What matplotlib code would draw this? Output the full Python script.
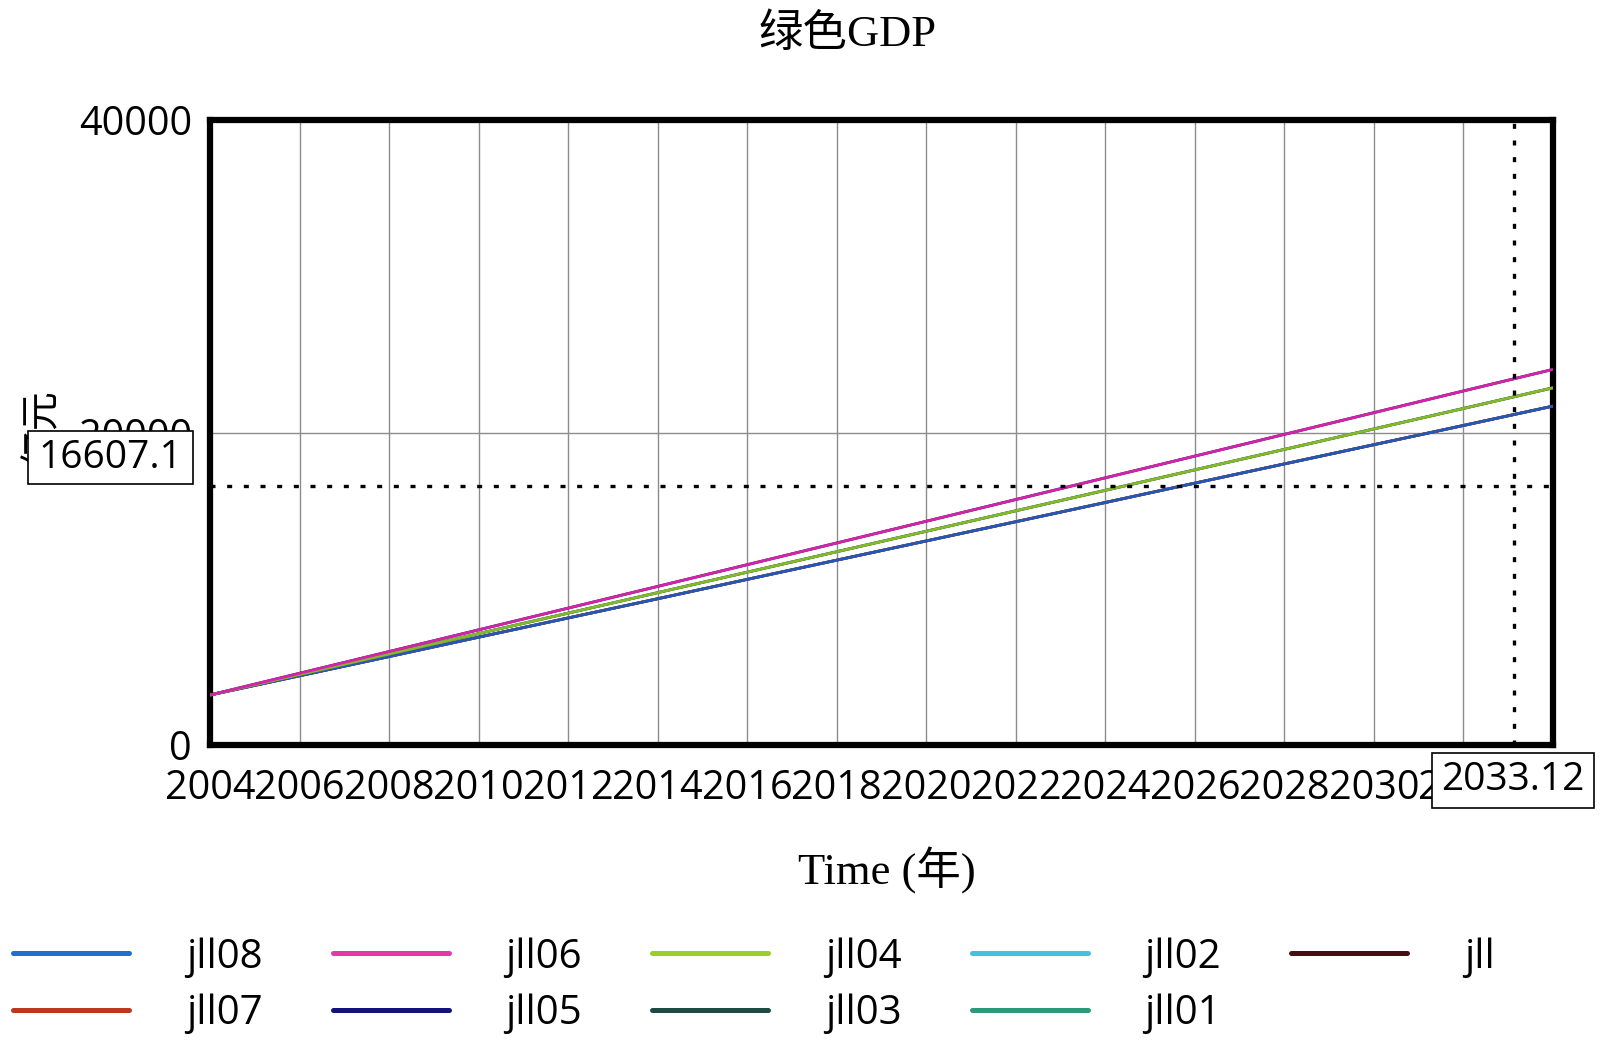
import matplotlib
matplotlib.use("Agg")
import matplotlib.pyplot as plt
from matplotlib.patches import Rectangle
from matplotlib.lines import Line2D

# ---------------- data ----------------
years = [2004, 2006, 2008, 2010, 2012, 2014, 2016, 2018,
         2020, 2022, 2024, 2026, 2028, 2030, 2032, 2034]
tick_years = [2004, 2006, 2008, 2010, 2012, 2014, 2016, 2018,
              2020, 2022, 2024, 2026, 2028, 2030, 2032]
y_ticks = [0, 20000, 40000]

# visible scenarios
jll08 = [3200, 4430, 5660, 6900, 8130, 9360, 10600, 11830,
         13060, 14290, 15520, 16760, 17990, 19220, 20450, 21690]
jll06 = [3200, 4590, 5980, 7370, 8760, 10150, 11540, 12930,
         14320, 15710, 17100, 18490, 19880, 21270, 22660, 24040]
jll04 = [3200, 4510, 5820, 7130, 8440, 9750, 11060, 12370,
         13680, 14990, 16300, 17610, 18920, 20230, 21540, 22860]
# scenarios hidden underneath the visible curves
jll07 = [3200, 4430, 5660, 6900, 8130, 9360, 10600, 11830,
         13060, 14290, 15520, 16760, 17990, 19220, 20450, 21690]
jll05 = [3200, 4590, 5980, 7370, 8760, 10150, 11540, 12930,
         14320, 15710, 17100, 18490, 19880, 21270, 22660, 24040]
jll03 = [3200, 4510, 5820, 7130, 8440, 9750, 11060, 12370,
         13680, 14990, 16300, 17610, 18920, 20230, 21540, 22860]
jll02 = [3200, 4510, 5820, 7130, 8440, 9750, 11060, 12370,
         13680, 14990, 16300, 17610, 18920, 20230, 21540, 22860]
jll01 = [3200, 4430, 5660, 6900, 8130, 9360, 10600, 11830,
         13060, 14290, 15520, 16760, 17990, 19220, 20450, 21690]
jll = [3200, 4430, 5660, 6900, 8130, 9360, 10600, 11830,
       13060, 14290, 15520, 16760, 17990, 19220, 20450, 21690]

cursor_x = 2033.12
cursor_y = 16607.1
cursor_x_label = "2033.12"
cursor_y_label = "16607.1"

title = "绿色GDP"
xlabel = "Time (年)"
ylabel = "亿元"

# ---------------- styles ----------------
colors = {
    "jll08": "#1f6fd0", "jll07": "#c0351e", "jll06": "#e03aa8",
    "jll05": "#12127a", "jll04": "#9ccd2c", "jll03": "#1d4a42",
    "jll02": "#45c0e0", "jll01": "#2a9a7a", "jll": "#4a0c12",
}
plot_colors = {"jll08": "#2456b8", "jll06": "#d424a6", "jll04": "#86b828"}

W, H = 1600, 1040
def fx(px):
    return px / W
def fy(py):
    return 1 - py / H

SANS = ["Open Sans", "DejaVu Sans"]
SERIF = ["Liberation Serif", "Noto Sans CJK SC"]

fig = plt.figure(figsize=(16, 10.4), dpi=100)
ax_l, ax_r, ax_t, ax_b = 210, 1553, 120, 745
ax = fig.add_axes([fx(ax_l), fy(ax_b), (ax_r - ax_l) / W, (ax_b - ax_t) / H])

series = [("jll08", jll08), ("jll07", jll07), ("jll06", jll06), ("jll05", jll05),
          ("jll04", jll04), ("jll03", jll03), ("jll02", jll02), ("jll01", jll01),
          ("jll", jll)]
draw_order = ["jll", "jll01", "jll02", "jll03", "jll05", "jll07",
              "jll08", "jll04", "jll06"]
data = dict(series)
for name in draw_order:
    c = plot_colors.get(name, colors[name])
    ax.plot(years, data[name], color=c, lw=2.0, zorder=3,
            solid_capstyle="butt")

ax.set_xlim(2004, 2034)
ax.set_ylim(0, 40000)
ax.set_xticks(tick_years)
ax.set_xticklabels([str(y) for y in tick_years])
ax.set_yticks(y_ticks)
ax.set_yticklabels([str(v) for v in y_ticks])
ax.tick_params(axis="both", length=0, labelsize=28.5)
ax.tick_params(axis="x", pad=17)
ax.tick_params(axis="y", pad=13)
for lab in ax.get_xticklabels() + ax.get_yticklabels():
    lab.set_fontfamily(SANS)
ax.grid(True, color="#8c8c8c", lw=1.0, zorder=1)
ax.set_axisbelow(True)
for s in ax.spines.values():
    s.set_linewidth(4.5)
    s.set_color("black")

# cursor lines
ax.axvline(cursor_x, color="black", lw=2.4, ls=(0, (1.5, 3.5)), zorder=4)
ax.axhline(cursor_y, color="black", lw=2.4, ls=(0, (1.5, 3.5)), zorder=4)

# title / labels
fig.text(fx(847), fy(34), title, ha="center", va="center", fontsize=32,
         family=SERIF)
fig.text(fx(887), fy(870), xlabel, ha="center", va="center", fontsize=32,
         family=SERIF)
fig.text(fx(42), fy(428), ylabel, ha="center", va="center", fontsize=28,
         rotation=90, family=["Noto Sans CJK SC"])

# cursor value boxes
def value_box(x0, y0, x1, y1, txt):
    r = Rectangle((fx(x0), fy(y1)), (x1 - x0) / W, (y1 - y0) / H,
                  transform=fig.transFigure, facecolor="white",
                  edgecolor="black", lw=1.2, zorder=10)
    fig.patches.append(r)
    fig.text(fx((x0 + x1) / 2), fy((y0 + y1) / 2), txt, ha="center",
             va="center", fontsize=28, family=SANS, zorder=11)

value_box(28, 431, 193, 484, cursor_y_label)
value_box(1432, 753, 1594, 808, cursor_x_label)

# legend
handles = [Line2D([0], [0], color=colors[n], lw=3.6, solid_capstyle="round")
           for n, _ in series]
labels = [n for n, _ in series]
fig.legend(handles, labels, loc="upper left", bbox_to_anchor=(fx(13), fy(937)),
           ncol=5, frameon=False, prop={"family": SANS, "size": 29},
           handlelength=2.88, handletextpad=1.41, columnspacing=1.74,
           labelspacing=0.4, borderpad=0, borderaxespad=0)

fig.savefig("out.png", dpi=100)
